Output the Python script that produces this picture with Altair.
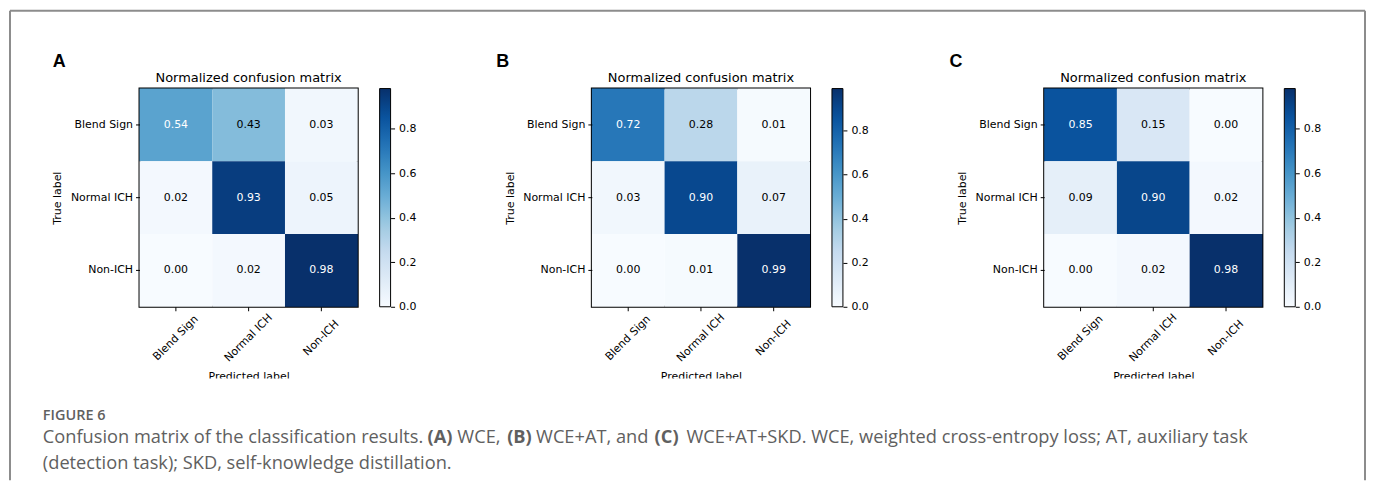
import altair as alt
import pandas as pd

# ---------------- data ----------------
classes = ["Blend Sign", "Normal ICH", "Non-ICH"]
panel_letters = ["A", "B", "C"]
cm_wce = [[0.54, 0.43, 0.03],
          [0.02, 0.93, 0.05],
          [0.00, 0.02, 0.98]]
cm_wce_at = [[0.72, 0.28, 0.01],
             [0.03, 0.90, 0.07],
             [0.00, 0.01, 0.99]]
cm_wce_at_skd = [[0.85, 0.15, 0.00],
                 [0.09, 0.90, 0.02],
                 [0.00, 0.02, 0.98]]
matrices = [cm_wce, cm_wce_at, cm_wce_at_skd]
colorbar_ticks = [0.0, 0.2, 0.4, 0.6, 0.8]
panel_title = "Normalized confusion matrix"
x_title = "Predicted label"
y_title = "True label"
figure_label = "FIGURE 6"
caption_line1 = ["Confusion matrix of the classification results.", "(A)", "WCE,", "(B)",
                 "WCE+AT, and", "(C)",
                 "WCE+AT+SKD. WCE, weighted cross-entropy loss; AT, auxiliary task"]
caption_line1_bold = [False, True, False, True, False, True, False]
caption_line2 = "(detection task); SKD, self-knowledge distillation."

# ---------------- styles / layout ----------------
BLUES = ["#f7fbff", "#deebf7", "#c6dbef", "#9ecae1", "#6baed6",
         "#4292c6", "#2171b5", "#08519c", "#08306b"]
FONT = "DejaVu Sans"
CAP_FONT = "Open Sans"
CAP_SIZE = 18.3
CAP_COLOR = "#606060"
BORDER = "#8c8c8c"
W = H = 219
GAP = 235
A_LEFT, TOP = 139, 87                  # page position of panel A plot area
LETTER_X = [52, 497, 952]              # page x of panel letters
SEG_X = [42, 428, 458, 508, 537, 656, 688]


def px(page_x, k):
    return page_x - (A_LEFT + k * (W + GAP))


def py(page_y):
    return page_y - TOP


def decorations(k):
    one = pd.DataFrame({"d": [0]})
    out = []
    # figure frame (top, left, right)
    out.append(alt.Chart(one).mark_rule(color=BORDER, strokeWidth=2).encode(
        x=alt.value(px(9, k)), y=alt.value(py(9)), y2=alt.value(py(480))))
    out.append(alt.Chart(one).mark_rule(color=BORDER, strokeWidth=2).encode(
        x=alt.value(px(1369, k)), y=alt.value(py(9)), y2=alt.value(py(480))))
    out.append(alt.Chart(one).mark_rule(color=BORDER, strokeWidth=2).encode(
        x=alt.value(px(9, k)), x2=alt.value(px(1369, k)), y=alt.value(py(9))))
    # crop of the figure image
    out.append(alt.Chart(one).mark_rect(color="white").encode(
        x=alt.value(px(10, k)), x2=alt.value(px(1368, k)),
        y=alt.value(py(378)), y2=alt.value(py(396))))
    # caption
    out.append(alt.Chart(pd.DataFrame({"s": [figure_label]})).mark_text(
        font=CAP_FONT, fontSize=14.5, fontWeight=600, color=CAP_COLOR,
        align="left", baseline="middle").encode(
        text="s:N", x=alt.value(px(42, k)), y=alt.value(py(416))))
    for seg, bold, sx in zip(caption_line1, caption_line1_bold, SEG_X):
        out.append(alt.Chart(pd.DataFrame({"s": [seg]})).mark_text(
            font=CAP_FONT, fontSize=CAP_SIZE, fontWeight="bold" if bold else "normal",
            color=CAP_COLOR, align="left", baseline="middle").encode(
            text="s:N", x=alt.value(px(sx, k)), y=alt.value(py(438))))
    out.append(alt.Chart(pd.DataFrame({"s": [caption_line2]})).mark_text(
        font=CAP_FONT, fontSize=CAP_SIZE, color=CAP_COLOR,
        align="left", baseline="middle").encode(
        text="s:N", x=alt.value(px(42, k)), y=alt.value(py(464))))
    return out


def panel(k):
    cm = matrices[k]
    rows = [{"true": t, "pred": p, "v": cm[i][j]}
            for i, t in enumerate(classes) for j, p in enumerate(classes)]
    df = pd.DataFrame(rows)
    vmax = float(df["v"].max())
    stops = [vmax * s / 8 for s in range(9)]

    xenc = alt.X("pred:N", sort=classes,
                 scale=alt.Scale(paddingInner=0, paddingOuter=0),
                 axis=alt.Axis(title=x_title, labelAngle=315, labelAlign="center",
                               labelBaseline="middle", labelPadding=27,
                               tickSize=4, tickColor="black", tickWidth=1,
                               domain=False, labelFont=FONT, labelFontSize=11,
                               labelColor="black", labelOverlap=False, labelBound=False,
                               titleFont=FONT, titleFontSize=11, titleFontWeight="normal",
                               titleColor="black", titleBaseline="top", titleY=64,
                               zindex=0))
    yenc = alt.Y("true:N", sort=classes,
                 scale=alt.Scale(paddingInner=0, paddingOuter=0),
                 axis=alt.Axis(title=y_title, tickSize=4, tickColor="black", tickWidth=1,
                               labelPadding=3, domain=False, labelFont=FONT,
                               labelFontSize=11, labelColor="black", labelOverlap=False,
                               titleFont=FONT, titleFontSize=11, titleFontWeight="normal",
                               titleColor="black", titleX=-82, titleY=H / 2,
                               titleAngle=270, titleAlign="center", titleBaseline="middle"))

    heat = alt.Chart(df).mark_rect().encode(
        x=xenc, y=yenc,
        color=alt.Color("v:Q",
                        scale=alt.Scale(domain=stops, range=BLUES, interpolate="rgb"),
                        legend=alt.Legend(title=None, orient="none", legendX=W + 22, legendY=0,
                                          direction="vertical", gradientLength=H,
                                          gradientThickness=11, gradientStrokeColor="black",
                                          gradientStrokeWidth=1, labelExpr="''", padding=0)))
    vals = alt.Chart(df).mark_text(font=FONT, fontSize=11).encode(
        x=xenc, y=yenc,
        text=alt.Text("v:Q", format=".2f"),
        color=alt.when(alt.datum.v > vmax / 2).then(alt.value("white")).otherwise(alt.value("black")))

    cbar_axis = alt.Chart(pd.DataFrame({"t": colorbar_ticks})).mark_tick(opacity=0).encode(
        y=alt.Y("t:Q", scale=alt.Scale(domain=[0, vmax], nice=False, zero=False),
                axis=alt.Axis(orient="right", offset=33, values=colorbar_ticks, format=".1f",
                              tickSize=4, tickColor="black", tickWidth=1, labelPadding=4,
                              labelFont=FONT, labelFontSize=11, labelColor="black",
                              domain=False, grid=False, title=None, labelFlush=False,
                              labelOverlap=False)))

    ttl = alt.Chart(pd.DataFrame({"s": [panel_title]})).mark_text(
        font=FONT, fontSize=13, align="center", baseline="alphabetic", color="black").encode(
        text="s:N", x=alt.value(W / 2), y=alt.value(-6.5))
    letter = alt.Chart(pd.DataFrame({"s": [panel_letters[k]]})).mark_text(
        font="Liberation Sans", fontSize=18, fontWeight="bold", align="left",
        baseline="alphabetic", color="black").encode(
        text="s:N", x=alt.value(px(LETTER_X[k], k)), y=alt.value(py(65)))

    layers = [alt.layer(heat, vals), cbar_axis, ttl, letter]
    if k == 2:
        layers += decorations(k)
    return alt.layer(*layers).resolve_scale(y="independent").properties(width=W, height=H)


chart = (alt.hconcat(*[panel(k) for k in range(3)], spacing=GAP, bounds="flush")
         .resolve_scale(color="independent")
         .properties(padding=0)
         .configure_view(stroke="black", strokeWidth=2))

chart.save("out.html", embed_options={"renderer": "svg", "actions": False})
